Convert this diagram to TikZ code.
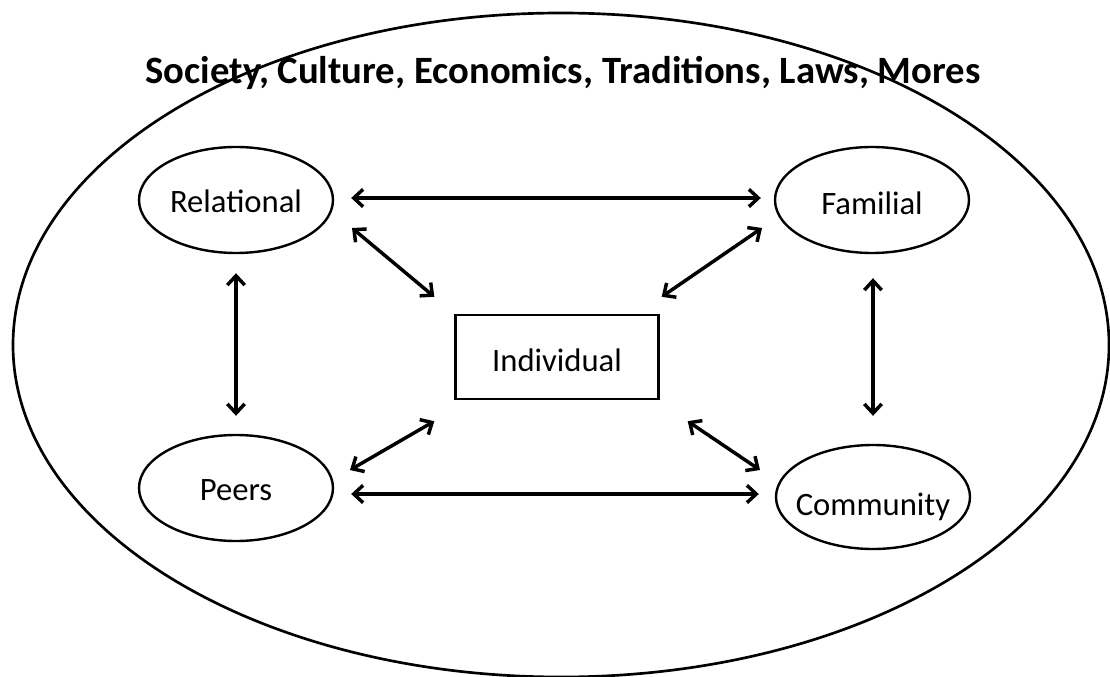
\documentclass[tikz,border=0pt]{standalone}
\usepackage{fontspec}
\setmainfont{Carlito}
\usetikzlibrary{shapes.geometric,arrows.meta}
\begin{document}
\begin{tikzpicture}[x=0.75pt,y=-0.75pt,
  oval/.style={draw, ellipse, line width=1.8pt, inner ysep=0pt, inner xsep=-12pt, minimum width=145.5pt, minimum height=79.5pt, text height=22pt, text depth=3pt, font=\fontsize{24.5}{28}\selectfont},
  indbox/.style={draw, rectangle, line width=1.8pt, inner sep=0pt, minimum width=152.25pt, minimum height=63pt, text height=24pt, text depth=2pt, font=\fontsize{24.5}{28}\selectfont},
  arr/.style={line width=2.6pt, {Straight Barb[length=7pt,width=13pt,line width=2.6pt]}-{Straight Barb[length=7pt,width=13pt,line width=2.6pt]}}
]
\useasboundingbox (0,0) rectangle (1110,677);
\fill[white] (0,0) rectangle (1110,677);
\draw[line width=2pt] (561,345) ellipse [x radius=548, y radius=332];
\node[anchor=base, font=\bfseries\fontsize{29}{33}\selectfont] (title) at (563,84) {Society, Culture, Economics, Traditions, Laws, Mores};

\node[oval] (rel) at (236,200) {Relational};
\node[oval, text height=24pt, text depth=2pt] (fam) at (872,200) {Familial};
\node[oval] (peers) at (236,488) {Peers};
\node[oval, minimum height=78pt, text height=29pt, text depth=2pt] (comm) at (873,497) {Community};
\node[indbox] (ind) at (557,357) {Individual};

\draw[arr] ([shift={(17,-2)}]rel.east) -- ([shift={(-13,-2)}]fam.west);
\draw[arr] ([shift={(116,28)}]rel.center) -- ([shift={(-20,-17)}]ind.north west);
\draw[arr] ([shift={(-110,28)}]fam.center) -- ([shift={(2,-17)}]ind.north east);
\draw[arr] ([shift={(0,19)}]rel.south) -- ([shift={(0,-18)}]peers.north);
\draw[arr] ([shift={(1,24)}]fam.south) -- ([shift={(0,-28)}]comm.north);
\draw[arr] ([shift={(114,-18)}]peers.center) -- ([shift={(-20,21)}]ind.south west);
\draw[arr] ([shift={(28,21)}]ind.south east) -- ([shift={(-113,-27)}]comm.center);
\draw[arr] ([shift={(17,6)}]peers.east) -- ([shift={(-16,-3)}]comm.west);
\end{tikzpicture}
\end{document}
